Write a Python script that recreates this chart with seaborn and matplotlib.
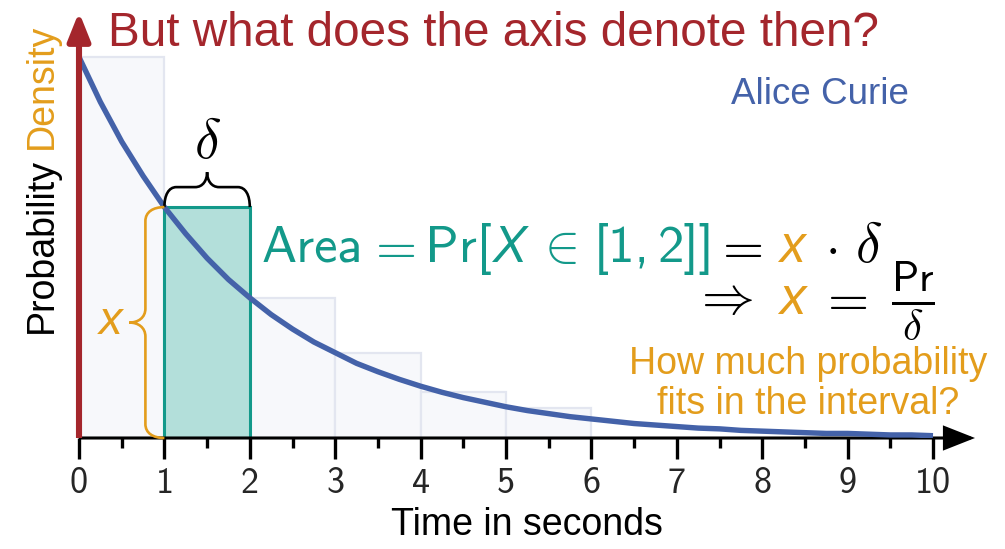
import numpy as np
import matplotlib
matplotlib.use("Agg")
import matplotlib.pyplot as plt
import seaborn as sns
from matplotlib.path import Path
from matplotlib.patches import PathPatch, FancyArrowPatch
from matplotlib.transforms import IdentityTransform

# ---------------- data ----------------
# exponential waiting-time density, sampled every quarter second
time_grid = np.arange(0, 10.001, 0.25)
density = [0.500, 0.441, 0.389, 0.344, 0.303, 0.268, 0.236, 0.208, 0.184,
           0.162, 0.143, 0.126, 0.112, 0.098, 0.087, 0.077, 0.068, 0.060,
           0.053, 0.047, 0.041, 0.036, 0.032, 0.028, 0.025, 0.022, 0.019,
           0.017, 0.015, 0.013, 0.012, 0.010, 0.009, 0.008, 0.007, 0.006,
           0.006, 0.005, 0.004, 0.004, 0.003]

# one-second histogram bins behind the curve
bin_edges = [0, 1, 2, 3, 4, 5, 6]
bin_heights = [0.500, 0.303, 0.184, 0.112, 0.060, 0.039]
highlight_bin = 1          # the interval [1, 2]

tick_values = list(range(0, 11))
tick_labels = [str(v) for v in tick_values]
minor_tick_values = [v + 0.5 for v in range(0, 10)]

# ---------------- colours ----------------
RED = "#A4262C"
BLUE = "#4462A9"
TEAL = "#13998A"
TEAL_FILL = "#B3DFDA"
ORANGE = "#E39D1C"
BAR_FILL = "#F7F8FB"
BAR_EDGE = "#E3E6F0"

sns.set_style("white")
plt.rcParams["font.family"] = ["Liberation Sans", "DejaVu Sans"]

W, H = 1005, 549
fig = plt.figure(figsize=(W / 100, H / 100), dpi=100)
ax = fig.add_axes([79 / W, (H - 438) / H, (975 - 79) / W, (438 - 12) / H])

# ---------------- histogram + density ----------------
centers = [(a + b) / 2 for a, b in zip(bin_edges[:-1], bin_edges[1:])]
sns.histplot(x=centers, weights=bin_heights, bins=bin_edges, color=BAR_FILL,
             edgecolor=BAR_EDGE, linewidth=1.6, alpha=1, ax=ax, zorder=1)
bars = list(ax.patches)
bars[highlight_bin].set_facecolor(TEAL_FILL)
bars[highlight_bin].set_edgecolor(TEAL)
bars[highlight_bin].set_linewidth(2.2)
bars[highlight_bin].set_zorder(2)

sns.lineplot(x=time_grid, y=density, color=BLUE, linewidth=3.9, ax=ax,
             zorder=4, solid_capstyle="butt")

ax.set_xlim(0, (975 - 79) / 85.4)
ax.set_ylim(0, (438 - 12) / 762)

# ---------------- axes ----------------
for s in ax.spines.values():
    s.set_visible(False)
ax.set_yticks([])
ax.set_ylabel("")
ax.set_xlabel("")
ax.set_xticks(tick_values)
ax.set_xticklabels(tick_labels, fontfamily="cmss10", fontsize=26)
ax.set_xticks(minor_tick_values, minor=True)
ax.tick_params(axis="x", which="major", bottom=True, length=15, width=2.4,
               color="black", pad=6)
ax.tick_params(axis="x", which="minor", bottom=True, length=7, width=2.4,
               color="black")

x_arrow = FancyArrowPatch((0, 0), (1, 0), transform=ax.transAxes,
                          arrowstyle="-|>,head_length=1.9,head_width=0.75",
                          mutation_scale=10, lw=2.2, color="black",
                          shrinkA=0, shrinkB=0, capstyle="butt",
                          joinstyle="miter", clip_on=False, zorder=3)
ax.add_patch(x_arrow)
y_arrow = FancyArrowPatch((0, 0), (0, 1), transform=ax.transAxes,
                          arrowstyle="-|>,head_length=1.7,head_width=0.68",
                          mutation_scale=10, lw=4.4, color=RED,
                          shrinkA=0, shrinkB=0, capstyle="butt",
                          joinstyle="round", clip_on=False, zorder=6)
ax.add_patch(y_arrow)


# ---------------- curly braces ----------------
def curly_brace(p0, p1, depth, tip, curl, **kw):
    """Brace from p0 to p1 (data coords), bulging to the left of p0->p1.
    depth, tip and curl are in pixels."""
    a = ax.transData.transform(p0)
    b = ax.transData.transform(p1)
    u = b - a
    L = np.hypot(*u)
    u = u / L
    n = np.array([-u[1], u[0]])

    def P(s, h):
        return a + u * s + n * h

    m = L / 2
    verts = [P(0, 0),
             P(0, depth * 0.6), P(curl * 0.35, depth), P(curl, depth),
             P(m - curl, depth),
             P(m - curl * 0.35, depth), P(m, depth + tip * 0.45), P(m, depth + tip),
             P(m, depth + tip * 0.45), P(m + curl * 0.35, depth), P(m + curl, depth),
             P(L - curl, depth),
             P(L - curl * 0.35, depth), P(L, depth * 0.6), P(L, 0)]
    codes = ([Path.MOVETO] + [Path.CURVE4] * 3 + [Path.LINETO] +
             [Path.CURVE4] * 6 + [Path.LINETO] + [Path.CURVE4] * 3)
    verts = ax.transData.inverted().transform(np.array(verts))
    patch = PathPatch(Path(verts, codes), facecolor="none", clip_on=False, **kw)
    ax.add_patch(patch)


top = bin_heights[highlight_bin]
lo, hi = bin_edges[highlight_bin], bin_edges[highlight_bin + 1]
curly_brace((lo, top), (hi, top), depth=20, tip=15, curl=12,
            edgecolor="black", lw=1.9, zorder=5)
curly_brace((lo, 0), (lo, top), depth=19, tip=16, curl=14,
            edgecolor=ORANGE, lw=1.9, zorder=5)

ax.annotate(r"$\delta$", xy=((lo + hi) / 2, top), xytext=(0, 49),
            textcoords="offset pixels", ha="center", va="baseline",
            fontsize=40, math_fontfamily="cm", color="black")
ax.annotate("x", xy=(lo, top / 2), xytext=(-66, -11),
            textcoords="offset pixels", ha="left", va="baseline",
            fontsize=34, style="italic", color=ORANGE)

# ---------------- text ----------------
fig.text(108 / W, 1 - 46 / H, "But what does the axis denote then?",
         fontsize=34.3, color=RED, ha="left", va="baseline")
fig.text(820 / W, 1 - 104 / H, "Alice Curie", fontsize=26.5, color=BLUE,
         ha="center", va="baseline")
fig.text(808 / W, 1 - 374 / H, "How much probability", fontsize=27,
         color=ORANGE, ha="center", va="baseline")
fig.text(808 / W, 1 - 414 / H, "fits in the interval?", fontsize=27,
         color=ORANGE, ha="center", va="baseline")
fig.text(527 / W, 1 - 535 / H, "Time in seconds", fontsize=27,
         color="black", ha="center", va="baseline")

ylab1 = fig.text(42 / W, 1 - 333 / H, "Probability", fontsize=27,
                 rotation=90, rotation_mode="anchor", ha="left",
                 va="center", color="black")
fig.canvas.draw()
renderer = fig.canvas.get_renderer()
ax.annotate("Density", xy=(0.5, 1.0), xycoords=ylab1, xytext=(0, 9),
            textcoords="offset pixels", rotation=90, rotation_mode="anchor",
            ha="left", va="center", fontsize=27, color=ORANGE,
            annotation_clip=False)


def text_run(pieces, x, y, align="left"):
    """Lay coloured pieces side by side on one baseline (pixel coords).
    Each piece is (text, colour, text kwargs, gap in pixels after it)."""
    arts, gaps = [], []
    for s, color, kw, gap in pieces:
        arts.append(fig.text(0, 0, s, color=color, ha="left", va="baseline",
                             transform=IdentityTransform(), **kw))
        gaps.append(gap)
    widths = [t.get_window_extent(renderer).width for t in arts]
    total = sum(widths) + sum(gaps[:-1])
    cur = x - (total if align == "right" else 0)
    for t, w, g in zip(arts, widths, gaps):
        t.set_position((cur, y))
        cur += w + g


FS = 38
sans = dict(fontsize=FS, family="cmss10")
math = dict(fontsize=FS, math_fontfamily="cm")
ital = dict(fontsize=FS - 1, style="italic")

text_run([("Area", TEAL, sans, 2),
          (r"$=$", TEAL, math, 10),
          ("Pr[", TEAL, sans, 1),
          ("X", TEAL, ital, 8),
          (r"$\in$", TEAL, math, 16),
          ("[1,", TEAL, sans, 8),
          ("2]]", TEAL, sans, -1),
          (r"$=$", "black", math, 17),
          ("x", ORANGE, ital, 20),
          (r"$\cdot$", "black", math, 18),
          (r"$\delta$", "black", dict(fontsize=40, math_fontfamily="cm"), 0)],
         262, H - 262)

text_run([(r"$\Rightarrow$", "black", math, 26),
          ("x", ORANGE, dict(fontsize=FS, style="italic"), 12),
          (r"$=$", "black", math, 24),
          (r"$\frac{\mathsf{Pr}}{\delta}$", "black",
           dict(fontsize=44, math_fontfamily="cm"), 0)],
         935, H - 314, align="right")

fig.savefig("out.png", dpi=100)
